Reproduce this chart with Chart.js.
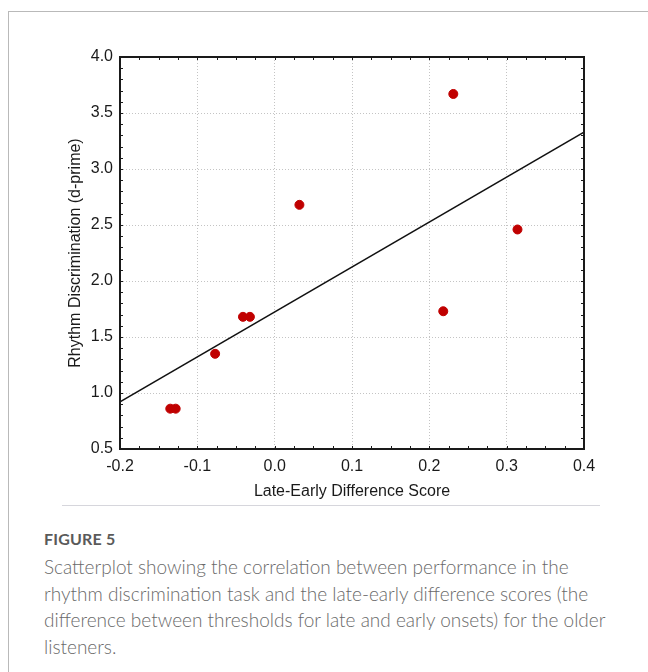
<!DOCTYPE html>
<html>
<head>
<title>Figure 5</title>
<style>
  body { margin: 0; background: #fff; }
  .card { position: absolute; left: 8px; top: 11px; width: 660px; height: 680px;
          border-top: 1px solid #b9b9b9; border-left: 1px solid #b9b9b9; }
  #wrap { position: absolute; left: 0; top: 0; width: 648px; height: 520px; }
  .rule { position: absolute; left: 62px; top: 505px; width: 538px; height: 1px; background: #d6d6dc; }
  .fig { position: absolute; left: 44px; top: 529px; font-family: "Lato", sans-serif; font-size: 16px;
         font-weight: 700; color: #5a5a5a; letter-spacing: 0.2px; }
  .cap { position: absolute; left: 44px; top: 554px; white-space: nowrap; font-family: "Lato", sans-serif;
         font-size: 19px; font-weight: 300; line-height: 26.5px; color: #6a6a6a; }
</style>
</head>
<body>
<div class="card"></div>
<div id="wrap"><canvas id="chart" width="648" height="520"></canvas></div>
<div class="rule"></div>
<div class="fig">FIGURE 5</div>
<div class="cap">Scatterplot showing the correlation between performance in the<br>rhythm discrimination task and the late-early difference scores (the<br>difference between thresholds for late and early onsets) for the older<br>listeners.</div>

<script src="https://cdn.jsdelivr.net/npm/chart.js@4.4.0/dist/chart.umd.min.js"></script>
<script>
// late-early difference score vs d-prime
const diffScore = [-0.135, -0.128, -0.077, -0.041, -0.032, 0.032, 0.218, 0.231, 0.314];
const dPrime    = [0.86, 0.86, 1.35, 1.68, 1.68, 2.68, 1.73, 3.67, 2.46];

// regression line end points
const fitX = [-0.2, 0.4];
const fitY = [0.92, 3.33];

const xTicks = [-0.2, -0.1, 0.0, 0.1, 0.2, 0.3, 0.4];
const yTicks = [0.5, 1.0, 1.5, 2.0, 2.5, 3.0, 3.5, 4.0];
const xMinorStep = 0.025;
const yMinorStep = 0.1;

const FONT = "'Liberation Sans', Arial, sans-serif";

// box round the plot + small inward ticks on all four sides
const frame = {
  id: 'frame',
  afterDraw(chart) {
    const ctx = chart.ctx;
    const a = chart.chartArea;
    const xs = chart.scales.x, ys = chart.scales.y;
    ctx.save();
    ctx.strokeStyle = '#1a1a1a';
    ctx.lineWidth = 1;
    ctx.beginPath();
    for (let v = xTicks[0]; v <= xTicks[xTicks.length - 1] + 1e-9; v += xMinorStep) {
      const px = Math.round(xs.getPixelForValue(v)) + 0.5;
      ctx.moveTo(px, a.bottom); ctx.lineTo(px, a.bottom - 3);
      ctx.moveTo(px, a.top); ctx.lineTo(px, a.top + 3);
    }
    for (let v = yTicks[0]; v <= yTicks[yTicks.length - 1] + 1e-9; v += yMinorStep) {
      const py = Math.round(ys.getPixelForValue(v)) + 0.5;
      ctx.moveTo(a.left, py); ctx.lineTo(a.left + 3, py);
      ctx.moveTo(a.right, py); ctx.lineTo(a.right - 3, py);
    }
    ctx.stroke();
    ctx.lineWidth = 2;
    ctx.strokeRect(a.left, a.top, a.right - a.left, a.bottom - a.top);
    ctx.restore();
  }
};

new Chart(document.getElementById('chart'), {
  type: 'scatter',
  data: {
    datasets: [
      {
        label: 'fit',
        data: fitX.map((x, i) => ({ x: x, y: fitY[i] })),
        showLine: true,
        borderColor: '#111',
        borderWidth: 1.5,
        pointRadius: 0,
        order: 2
      },
      {
        label: 'listeners',
        data: diffScore.map((x, i) => ({ x: x, y: dPrime[i] })),
        backgroundColor: '#c00000',
        borderColor: '#c00000',
        pointRadius: 4.5,
        order: 1
      }
    ]
  },
  options: {
    responsive: false,
    animation: false,
    layout: { padding: { left: 50, top: 57, right: 64, bottom: 0 } },
    plugins: { legend: { display: false }, tooltip: { enabled: false } },
    scales: {
      x: {
        type: 'linear',
        min: -0.2, max: 0.4,
        afterBuildTicks: s => { s.ticks = xTicks.map(v => ({ value: v })); },
        afterFit: s => { s.height = 71; },
        ticks: { font: { family: FONT, size: 16 }, color: '#1a1a1a', padding: 8,
                 callback: v => v.toFixed(1), maxRotation: 0 },
        grid: {
          drawTicks: false,
          color: c => (c.tick && (c.tick.value === -0.2 || c.tick.value === 0.4)) ? 'rgba(0,0,0,0)' : '#c4c4c4',
          borderDash: [1, 2]
        },
        border: { display: false, dash: [1, 2] },
        title: { display: true, text: 'Late-Early Difference Score',
                 font: { family: FONT, size: 16 }, color: '#1a1a1a', padding: { top: 0, bottom: 19 } }
      },
      y: {
        type: 'linear',
        min: 0.5, max: 4.0,
        afterBuildTicks: s => { s.ticks = yTicks.map(v => ({ value: v })); },
        afterFit: s => { s.width = 70; },
        ticks: { font: { family: FONT, size: 16 }, color: '#1a1a1a', padding: 7,
                 callback: v => v.toFixed(1) },
        grid: {
          drawTicks: false,
          color: c => (c.tick && (c.tick.value === 0.5 || c.tick.value === 4.0)) ? 'rgba(0,0,0,0)' : '#c4c4c4',
          borderDash: [1, 2]
        },
        border: { display: false, dash: [1, 2] },
        title: { display: true, text: 'Rhythm Discrimination (d-prime)',
                 font: { family: FONT, size: 16 }, color: '#1a1a1a', padding: { top: 16, bottom: 0 } }
      }
    }
  },
  plugins: [frame]
});
</script>
</body>
</html>
